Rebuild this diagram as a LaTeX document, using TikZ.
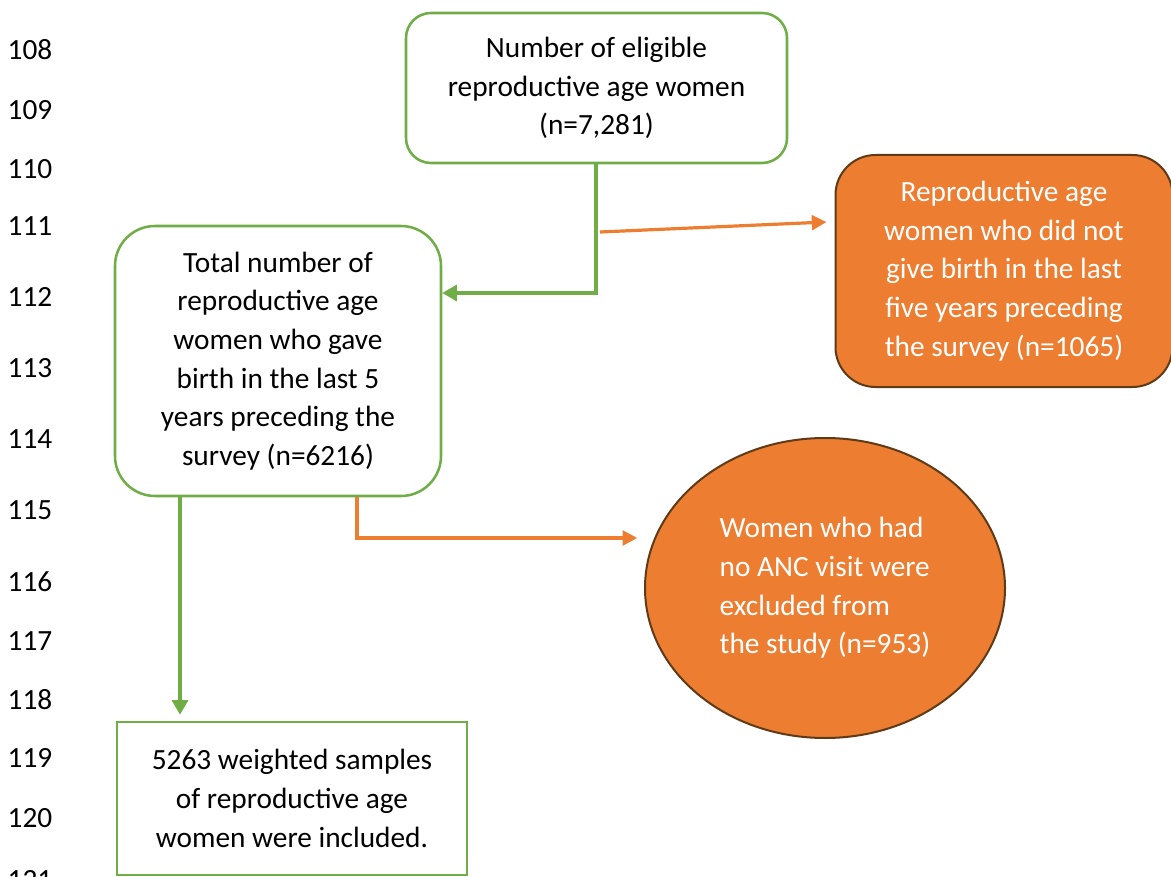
\documentclass[tikz,border=0pt]{standalone}
\usepackage{fontspec}
\setmainfont{Carlito}
\usetikzlibrary{arrows.meta,shapes.geometric}
\definecolor{boxgreen}{HTML}{70AD47}
\definecolor{boxorange}{HTML}{ED7D31}
\definecolor{edgebrown}{HTML}{5E3A17}

\begin{document}
\begin{tikzpicture}[x=0.75pt,y=-0.75pt,
  every node/.style={font=\fontsize{22}{29}\selectfont},
  greenbox/.style={draw=boxgreen,line width=1.9pt,fill=white,rounded corners=#1,align=center,inner sep=0pt},
  orangebox/.style={draw=edgebrown,line width=1.5pt,fill=boxorange,text=white,rounded corners=30pt,align=center,inner sep=0pt},
  greenline/.style={draw=boxgreen,line width=2.5pt,-{Triangle[length=11pt,width=12pt]}},
  orangeline/.style={draw=boxorange,line width=2.4pt,-{Triangle[length=11pt,width=11pt]}}]

  \useasboundingbox (0,0) rectangle (1171,877);

  % line numbers of the page
  \foreach \n/\y in {108/50,109/110,110/169,111/226,112/297,113/368,114/439,
                     115/510,116/582,117/641,118/700,119/758,120/818,121/880}
    \node (line\n) at (30,\y) {\n};

  \node (eligible) [greenbox=18.75pt, minimum width=285.75pt, minimum height=112.5pt] at (596.5,88)
    {Number of eligible\\reproductive age women\\(n=7,281)};
  \node (gavebirth) [greenbox=30pt, minimum width=244.5pt, minimum height=202.5pt] at (278,361)
    {Total number of\\reproductive age\\women who gave\\birth in the last 5\\years preceding the\\survey (n=6216)};
  \node (nobirth) [orangebox, minimum width=252.75pt, minimum height=174pt] at (1004,271)
    {Reproductive age\\women who did not\\give birth in the last\\five years preceding\\the survey (n=1065)};
  \node (noanc) [ellipse, draw=edgebrown, line width=1.5pt, fill=boxorange, text=white, align=left,
    minimum width=270pt, minimum height=225pt, inner sep=0pt] at (825,588)
    {Women who had\\no ANC visit were\\excluded from\\the study (n=953)};
  \node (included) [draw=boxgreen, line width=1.9pt, align=center, inner sep=0pt,
    minimum width=262.5pt, minimum height=114.75pt] at (292,798.5)
    {5263 weighted samples\\of reproductive age\\women were included.};

  \coordinate (bend1) at (596,293);
  \coordinate (split1) at (600,232);
  \coordinate (bend2) at (357,538);
  \coordinate (drop) at (180,600);

  \draw [greenline] (eligible.south -| bend1) -- (bend1) -- (bend1 -| gavebirth.east);
  \draw [orangeline] (split1) -- ([xshift=-6pt,yshift=36.75pt]nobirth.west);
  \draw [orangeline, shorten >=5pt] (gavebirth.south -| bend2) -- (bend2) -- (bend2 -| noanc.west);
  \draw [greenline, shorten >=4.5pt] (gavebirth.south -| drop) -- (included.north -| drop);

\end{tikzpicture}
\end{document}
